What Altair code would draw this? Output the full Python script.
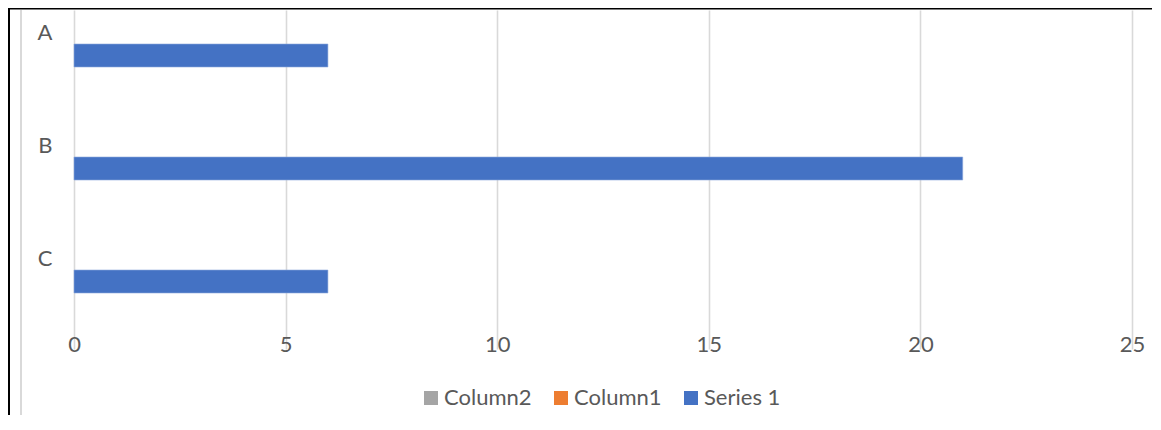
import altair as alt
import pandas as pd

categories = ["A", "B", "C"]
series_names = ["Column2", "Column1", "Series 1"]
series_1 = [6, 21, 6]
column_1 = [None, None, None]
column_2 = [None, None, None]
x_ticks = [0, 5, 10, 15, 20, 25]
colors = ["#A5A5A5", "#ED7D31", "#4472C4"]

rows = []
for i, c in enumerate(categories):
    rows.append({"cat": c, "series": "Column2", "value": column_2[i]})
    rows.append({"cat": c, "series": "Column1", "value": column_1[i]})
    rows.append({"cat": c, "series": "Series 1", "value": series_1[i]})
df = pd.DataFrame(rows)

FONT = "Lato"
TXT = "#595959"
W, H = 1058, 305
FS = 22

bars = alt.Chart(df).mark_bar(stroke="#8FAADC", strokeWidth=0.6).encode(
    x=alt.X("value:Q", scale=alt.Scale(domain=[0, 25], nice=False),
            axis=alt.Axis(values=x_ticks, title=None, domain=False, ticks=False,
                          grid=True, gridColor="#D9D9D9", gridWidth=1.6,
                          labelFlush=False,
                          labelFont=FONT, labelFontSize=FS, labelColor=TXT,
                          labelPadding=19)),
    y=alt.Y("cat:N", sort=categories,
            scale=alt.Scale(domain=categories, rangeMin=-34, rangeMax=H,
                            paddingInner=44 / 113, paddingOuter=22 / 113),
            axis=alt.Axis(title=None, domain=False, ticks=False, grid=False,
                          labelFont=FONT, labelFontSize=FS, labelColor=TXT,
                          labelPadding=22)),
    yOffset=alt.YOffset("series:N", sort=series_names,
                        scale=alt.Scale(domain=series_names, paddingInner=0, paddingOuter=0)),
    color=alt.Color("series:N",
                    scale=alt.Scale(domain=series_names, range=colors),
                    legend=alt.Legend(title=None, orient="none", direction="horizontal",
                                      legendX=346, legendY=377,
                                      symbolType="square", symbolSize=196,
                                      symbolStrokeWidth=0,
                                      labelFont=FONT, labelFontSize=FS, labelColor=TXT,
                                      labelOffset=2, columnPadding=18)),
)

top_line = alt.Chart(pd.DataFrame({"k": [0]})).mark_rule(color="black", strokeWidth=2).encode(
    x=alt.value(-66), x2=alt.value(1090), y=alt.value(-1.5))
left_line = alt.Chart(pd.DataFrame({"k": [0]})).mark_rule(color="black", strokeWidth=2).encode(
    x=alt.value(-65), y=alt.value(-2), y2=alt.value(420))
grey_line = alt.Chart(pd.DataFrame({"k": [0]})).mark_rule(color="#D9D9D9", strokeWidth=2).encode(
    x=alt.value(-53), y=alt.value(0), y2=alt.value(420))

chart = alt.layer(bars, top_line, left_line, grey_line).properties(
    width=W, height=H,
    autosize=alt.AutoSizeParams(type="none"),
    padding={"left": 66, "top": 2, "right": 20, "bottom": 100},
).configure_view(stroke=None)

chart.save("out.html", embed_options={"renderer": "svg", "actions": False})
